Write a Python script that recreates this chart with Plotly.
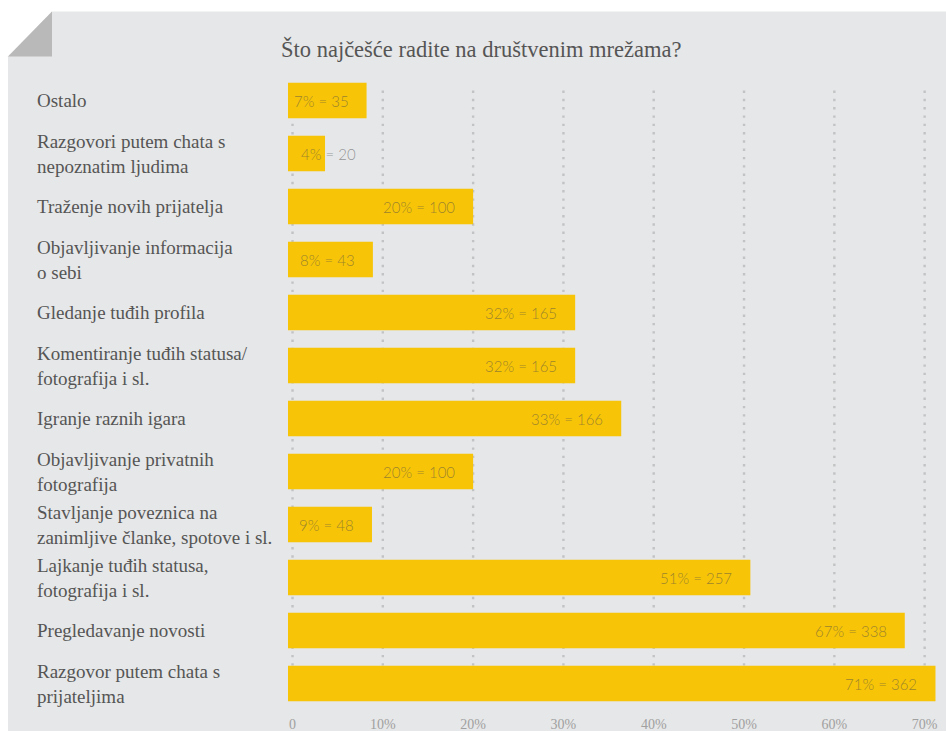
import plotly.graph_objects as go

# ---- data ----
categories = [
    "Ostalo",
    "Razgovori putem chata s\nnepoznatim ljudima",
    "Traženje novih prijatelja",
    "Objavljivanje informacija\no sebi",
    "Gledanje tuđih profila",
    "Komentiranje tuđih statusa/\nfotografija i sl.",
    "Igranje raznih igara",
    "Objavljivanje privatnih\nfotografija",
    "Stavljanje poveznica na\nzanimljive članke, spotove i sl.",
    "Lajkanje tuđih statusa,\nfotografija i sl.",
    "Pregledavanje novosti",
    "Razgovor putem chata s\nprijateljima",
]
pct_labels = [7, 4, 20, 8, 32, 32, 33, 20, 9, 51, 67, 71]
counts = [35, 20, 100, 43, 165, 165, 166, 100, 48, 257, 338, 362]
# drawn bar lengths (in % axis units) as measured in the picture
bar_len = [8.7, 4.1, 20.5, 9.4, 31.8, 31.8, 36.9, 20.5, 9.3, 51.2, 68.3, 71.7]
x_ticks = [0, 10, 20, 30, 40, 50, 60, 70]
x_tick_text = ["0", "10%", "20%", "30%", "40%", "50%", "60%", "70%"]
title = "Što najčešće radite na društvenim mrežama?"

# ---- geometry / style ----
W, H = 946, 731
L, R, T, B = 288, 6, 73.5, 21
PW, PH = W - L - R, H - T - B
BASE = -0.5
YELLOW = "#F7C407"
PANEL = "#E6E7E8"
SERIF = "Liberation Serif"
GRID_TOP, GRID_BOTTOM = 90, 703


def px_x(px):
    return (px - L) / PW


def px_y(py):
    return 1 - (py - T) / PH


fig = go.Figure()
fig.add_trace(go.Bar(
    y=list(range(len(categories))),
    x=bar_len,
    base=BASE,
    orientation="h",
    marker=dict(color=YELLOW, line=dict(width=0)),
    hoverinfo="skip",
))

annotations = []
# category labels
for i, lab in enumerate(categories):
    lines = lab.split("\n")
    n = len(lines)
    for j, ln in enumerate(lines):
        shift = (n - 1) / 2 * 25 - j * 25
        annotations.append(dict(
            text=ln, xref="paper", yref="y", x=px_x(35), y=i,
            xanchor="left", yanchor="middle", showarrow=False, yshift=shift,
            font=dict(family=SERIF, size=19, color="#555555"),
        ))
# value labels
for i, (p, c, bl) in enumerate(zip(pct_labels, counts, bar_len)):
    txt = f"{p}% = {c}"
    if bl < 6:
        a = dict(x=0, xanchor="left", xshift=6)
    else:
        a = dict(x=BASE + bl, xanchor="right", xshift=-16)
    a.update(text=txt, xref="x", yref="y", y=i, yanchor="middle",
             showarrow=False,
             font=dict(family="Lato", size=15, weight=300,
                       color="rgba(75,75,75,0.55)"))
    annotations.append(a)
# title
annotations.append(dict(
    text=title, xref="paper", yref="paper", x=px_x(481), y=px_y(48),
    xanchor="center", yanchor="middle", showarrow=False,
    font=dict(family=SERIF, size=22.5, color="#555555"),
))

shapes = [
    dict(type="path", xref="paper", yref="paper", layer="below",
         path=(f"M {px_x(8)},{px_y(56)} L {px_x(52)},{px_y(11)} "
               f"L {px_x(946)},{px_y(11)} L {px_x(946)},{px_y(731)} "
               f"L {px_x(8)},{px_y(731)} Z"),
         fillcolor=PANEL, line=dict(width=0)),
    dict(type="path", xref="paper", yref="paper", layer="below",
         path=(f"M {px_x(8)},{px_y(56)} L {px_x(52)},{px_y(11)} "
               f"L {px_x(52)},{px_y(56)} Z"),
         fillcolor="#B9B9BA", line=dict(width=0)),
]
# dotted vertical grid lines (on the x scale)
for t in x_ticks:
    shapes.append(dict(
        type="line", xref="x", yref="paper", layer="below",
        x0=t, x1=t, y0=px_y(GRID_TOP), y1=px_y(GRID_BOTTOM),
        line=dict(color="#C2C3C4", width=2.4, dash="2.4px,5.9px"),
    ))

fig.update_layout(
    width=W, height=H,
    margin=dict(l=L, r=R, t=T, b=B, autoexpand=False),
    paper_bgcolor="white",
    plot_bgcolor="rgba(0,0,0,0)",
    showlegend=False,
    bargap=0.33,
    annotations=annotations,
    shapes=shapes,
    xaxis=dict(
        range=[-0.5, 71.7],
        tickvals=x_ticks, ticktext=x_tick_text,
        showgrid=False, automargin=False,
        zeroline=False, showline=False, ticks="",
        tickfont=dict(family=SERIF, size=14, color="#A0A0A0"),
        ticklabelstandoff=4,
        fixedrange=True,
    ),
    yaxis=dict(
        range=[11.5, -0.5], automargin=False,
        showticklabels=False, showgrid=False, zeroline=False,
        showline=False, ticks="", fixedrange=True,
    ),
)

fig.write_html("out.html")
